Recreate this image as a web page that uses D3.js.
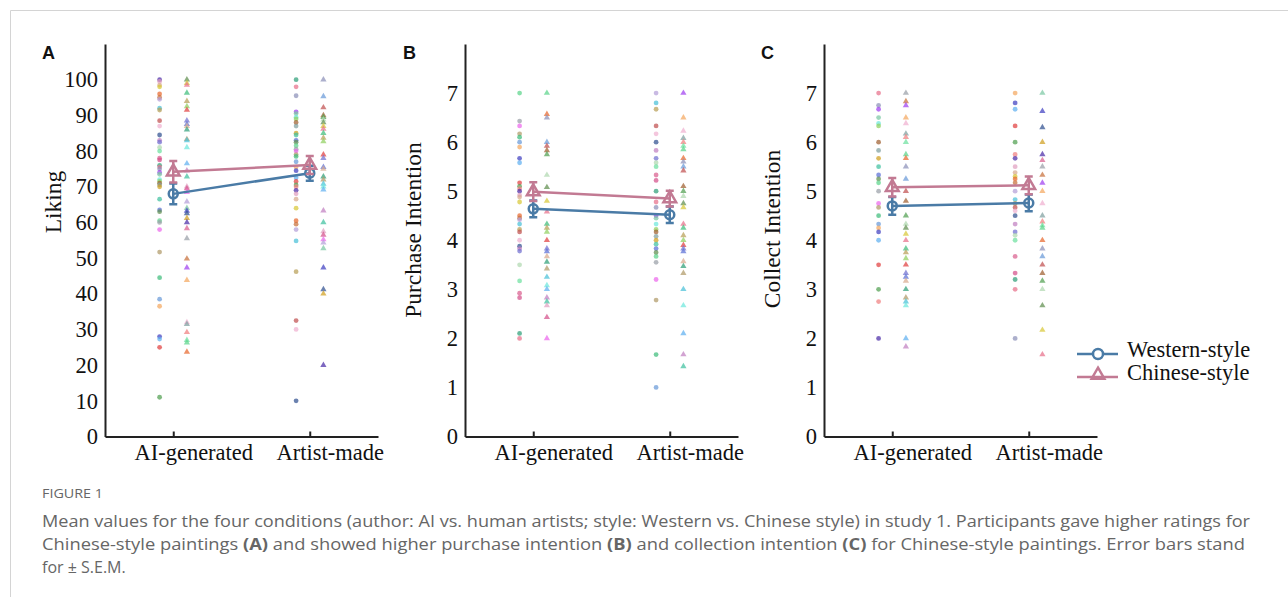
<!DOCTYPE html>
<html>
<head>
<meta charset="utf-8">
<script src="https://cdn.jsdelivr.net/npm/d3@7"></script>
<style>
body { margin: 0; background: #fff; }
</style>
</head>
<body>
<div id="contents"></div>
<script>
var categories = ["AI-generated", "Artist-made"];
var seriesNames = ["Western-style", "Chinese-style"];
var panelLetters = ["A", "B", "C"];
var yLabels = ["Liking", "Purchase Intention", "Collect Intention"];
var likingTicks = [0, 10, 20, 30, 40, 50, 60, 70, 80, 90, 100];
var intentionTicks = [0, 1, 2, 3, 4, 5, 6, 7];

// means and s.e.m. per category [AI, Artist]
var likingWesternMean = [68.0, 73.8];
var likingWesternSem = [2.9, 2.1];
var likingChineseMean = [74.2, 76.1];
var likingChineseSem = [3.0, 2.5];
var purchaseWesternMean = [4.64, 4.52];
var purchaseWesternSem = [0.17, 0.17];
var purchaseChineseMean = [4.99, 4.85];
var purchaseChineseSem = [0.19, 0.16];
var collectWesternMean = [4.70, 4.76];
var collectWesternSem = [0.18, 0.17];
var collectChineseMean = [5.08, 5.12];
var collectChineseSem = [0.19, 0.18];

// individual ratings
var likingAIWestern = [100, 99.5, 98.5, 98, 96, 95, 94.5, 92, 91.5, 88.5, 87, 84.5, 83, 82.5, 81, 80, 78, 77.5, 76, 75.5, 75, 74, 73.5, 72, 71.5, 71, 70.5, 70, 66.5, 63.5, 63, 60.5, 60, 58, 51.7, 44.5, 38.5, 36.5, 28, 27.3, 25, 11];
var likingAIChinese = [100, 99, 98.5, 96.3, 94, 92.5, 91.5, 88.5, 87.5, 87, 86, 83.3, 83, 81, 76.5, 74.5, 72.8, 70, 69.5, 68.5, 65.8, 64, 63.2, 62.5, 61.2, 60, 58.3, 55.5, 49.8, 47.3, 43.8, 32, 31.5, 29.2, 27, 26.3, 23.7];
var likingArtistWestern = [100, 98, 95.5, 91, 90.5, 89.5, 89, 88, 87, 85, 84.5, 83, 82.5, 81.5, 80.5, 80, 79, 78.5, 77, 75.5, 74.5, 72.5, 71.5, 70.5, 70, 69, 68, 66.5, 64, 60.5, 59.5, 58, 54.8, 46.2, 32.5, 30, 10];
var likingArtistChinese = [100, 95.3, 92.2, 90, 89.5, 88.8, 88, 87, 86.2, 85, 83.7, 82.7, 79, 78, 75.5, 75, 72.8, 72, 70.8, 70, 69.2, 63.3, 60, 57.5, 56.5, 55.2, 54.3, 52.7, 47.3, 41.2, 40, 20];
var purchaseAIWestern = [7, 6.43, 6.33, 6.17, 6.1, 6, 5.9, 5.67, 5.58, 5.17, 5.1, 5.05, 5, 4.92, 4.88, 4.78, 4.5, 4.45, 4.42, 4.33, 4.22, 4.17, 4, 3.88, 3.83, 3.78, 3.5, 3.17, 2.92, 2.83, 2.1, 2];
var purchaseAIChinese = [7, 6.57, 6.5, 6, 5.92, 5.83, 5.75, 5.33, 5.08, 4.8, 4.58, 4.33, 4.25, 4.17, 4, 3.83, 3.77, 3.67, 3.56, 3.42, 3.25, 3.08, 3, 2.83, 2.75, 2.67, 2.43, 2];
var purchaseArtistWestern = [7, 6.8, 6.67, 6.33, 6.17, 6, 5.83, 5.67, 5.58, 5.5, 5.33, 5.22, 5, 4.78, 4.67, 4.5, 4.45, 4.33, 4.22, 4.17, 4.08, 4, 3.92, 3.83, 3.75, 3.67, 3.55, 3.2, 2.78, 1.67, 1];
var purchaseArtistChinese = [7, 6.5, 6.23, 6.08, 6, 5.92, 5.85, 5.67, 5.6, 5.5, 5.42, 5.1, 5, 4.9, 4.75, 4.67, 4.33, 4.25, 4.1, 4, 3.9, 3.83, 3.77, 3.57, 3.47, 3.33, 3, 2.67, 2.1, 1.67, 1.43];
var collectAIWestern = [7, 6.75, 6.67, 6.5, 6.38, 6.33, 6, 5.83, 5.67, 5.5, 5.33, 5.25, 5.17, 5, 4.75, 4.67, 4.5, 4.33, 4.25, 4.17, 4, 3.5, 3, 2.75, 2];
var collectAIChinese = [7, 6.83, 6.75, 6.5, 6.38, 6.17, 6.1, 6, 5.75, 5.67, 5.5, 5.25, 5, 4.8, 4.5, 4.33, 4.25, 4.13, 4, 3.83, 3.75, 3.63, 3.5, 3.33, 3.25, 3.17, 3, 2.83, 2.75, 2.67, 2, 1.83];
var collectArtistWestern = [7, 6.8, 6.67, 6.33, 6, 5.75, 5.67, 5.5, 5.38, 5.3, 5.25, 5.17, 5, 4.83, 4.75, 4.67, 4.6, 4.5, 4.33, 4.17, 4.1, 4, 3.67, 3.33, 3.2, 3, 2];
var collectArtistChinese = [7, 6.63, 6.3, 6, 5.75, 5.63, 5.5, 5.33, 5.17, 5, 4.75, 4.5, 4.38, 4.3, 4.25, 4, 3.83, 3.67, 3.5, 3.33, 3.17, 3, 2.67, 2.17, 1.67];

var pointColors = ["#4b2ca8", "#5a6fd6", "#6ee0a0", "#e0a0c0", "#5f8f4f", "#d9608f", "#d8ab8f", "#5cd48a",
	"#d4508a", "#d8c838", "#9aa0a8", "#2f9f78", "#e8682e", "#ec66ec", "#e8708a", "#c8703c",
	"#b09a68", "#8c90b8", "#b4a0d8", "#3ebc7c", "#a040f0", "#4ac0d8", "#6a9ad8", "#7cc8a4",
	"#b8a058", "#f4a860", "#6ee8dc", "#c05050", "#4040c0", "#90d060", "#f0b0d0", "#60b0f0",
	"#a06030", "#305090", "#e04040", "#80a0a0", "#c080c0", "#50a050", "#d0a020", "#7070d0",
	"#f08080", "#40c0a0", "#b0d8b0"];
var seriesColors = ["#4a7ba6", "#c27a93"];

var panels = [
	{ letter: panelLetters[0], label: yLabels[0], ticks: likingTicks, top: 110, left: 105, labelY: 202,
	  points: [[likingAIWestern, likingAIChinese], [likingArtistWestern, likingArtistChinese]],
	  means: [likingWesternMean, likingChineseMean], sems: [likingWesternSem, likingChineseSem] },
	{ letter: panelLetters[1], label: yLabels[1], ticks: intentionTicks, top: 8, left: 465, labelY: 230,
	  points: [[purchaseAIWestern, purchaseAIChinese], [purchaseArtistWestern, purchaseArtistChinese]],
	  means: [purchaseWesternMean, purchaseChineseMean], sems: [purchaseWesternSem, purchaseChineseSem] },
	{ letter: panelLetters[2], label: yLabels[2], ticks: intentionTicks, top: 8, left: 824, labelY: 229,
	  points: [[collectAIWestern, collectAIChinese], [collectArtistWestern, collectArtistChinese]],
	  means: [collectWesternMean, collectChineseMean], sems: [collectWesternSem, collectChineseSem] }
];

var SERIF = "'Liberation Serif', 'Times New Roman', serif";

var Chart = function() {
	this.svg = d3.select("#contents")
		.append("svg")
		.attr("width", 1288)
		.attr("height", 597);
	this.y0 = 436.5;
	this.y1 = 44;
	this.w = 273;
};

Chart.prototype.frame = function() {
	this.svg.append("path")
		.attr("d", "M10.5,597V10.5H1288")
		.attr("fill", "none")
		.attr("stroke", "#d4d4d4")
		.attr("stroke-width", 1);
};

Chart.prototype.panel = function(p, pi) {
	var svg = this.svg;
	var g = svg.append("g");
	var x = d3.scaleLinear().domain([0.5, 2.5]).range([p.left, p.left + this.w]);
	var y = d3.scaleLinear().domain([0, p.top]).range([this.y0, this.y1]);
	var tri = d3.symbol().type(d3.symbolTriangle);

	// raw points
	p.points.forEach(function(cat, c) {
		cat.forEach(function(vals, s) {
			var cx = x(c + 1 + (s ? 0.1 : -0.1));
			var sel = g.append("g").selectAll("path").data(vals).enter();
			if (s == 0) {
				sel.append("circle")
					.attr("cx", cx)
					.attr("cy", function(d) { return y(d); })
					.attr("r", 2.4)
					.attr("fill", function(d, i) { return pointColors[(i * 3 + c * 11 + pi * 7) % pointColors.length]; })
					.attr("fill-opacity", 0.72);
			} else {
				sel.append("path")
					.attr("d", tri.size(17)())
					.attr("transform", function(d) { return "translate(" + cx + "," + y(d) + ")"; })
					.attr("fill", function(d, i) { return pointColors[(i * 5 + c * 13 + pi * 3 + 4) % pointColors.length]; })
					.attr("fill-opacity", 0.72);
			}
		});
	});

	// axes
	var ya = g.append("g")
		.attr("transform", "translate(" + p.left + ",0)")
		.call(d3.axisLeft(y).tickValues(p.ticks).tickSize(0).tickPadding(7));
	ya.select(".domain").attr("stroke", "#222").attr("stroke-width", 2);
	ya.selectAll("text").attr("font-family", SERIF).attr("font-size", 22.5).attr("fill", "#111");

	var xa = g.append("g")
		.attr("transform", "translate(0," + this.y0 + ")")
		.call(d3.axisBottom(x).tickValues([1, 2]).tickSizeInner(-5).tickSizeOuter(0).tickPadding(8)
			.tickFormat(function(d) { return categories[d - 1]; }));
	xa.select(".domain").attr("stroke", "#222").attr("stroke-width", 2);
	xa.selectAll(".tick line").attr("stroke", "#222").attr("stroke-width", 2);
	xa.selectAll("text").attr("font-family", SERIF).attr("font-size", 22.5).attr("fill", "#111").attr("dx", 20);

	g.append("text")
		.attr("transform", "translate(" + (p.left - 52) + "," + p.labelY + ") rotate(-90)")
		.attr("text-anchor", "middle")
		.attr("dominant-baseline", "central")
		.attr("font-family", SERIF)
		.attr("font-size", 23.5)
		.attr("fill", "#111")
		.text(p.label);

	g.append("text")
		.attr("x", p.left - 63 + (pi == 1 ? 1 : 0))
		.attr("y", 59)
		.attr("font-family", "'Liberation Sans', Arial, sans-serif")
		.attr("font-weight", "bold")
		.attr("font-size", 18)
		.attr("fill", "#111")
		.text(p.letter);

	// means with error bars
	p.means.forEach(function(m, s) {
		var col = seriesColors[s];
		var sg = g.append("g");
		sg.append("path")
			.datum(m)
			.attr("d", d3.line().x(function(d, i) { return x(i + 1); }).y(function(d) { return y(d); }))
			.attr("fill", "none")
			.attr("stroke", col)
			.attr("stroke-width", 2.5);
		m.forEach(function(v, c) {
			var e = p.sems[s][c];
			var cx = x(c + 1);
			sg.append("path")
				.attr("d", "M" + cx + "," + y(v - e) + "V" + y(v + e) +
					"M" + (cx - 4) + "," + y(v + e) + "H" + (cx + 4) +
					"M" + (cx - 4) + "," + y(v - e) + "H" + (cx + 4))
				.attr("stroke", col)
				.attr("stroke-width", 2.5)
				.attr("fill", "none");
			if (s == 0) {
				sg.append("circle")
					.attr("cx", cx).attr("cy", y(v)).attr("r", 4.5)
					.attr("fill", "none").attr("stroke", col).attr("stroke-width", 2.5);
			} else {
				sg.append("path")
					.attr("d", tri.size(70)())
					.attr("transform", "translate(" + cx + "," + y(v) + ")")
					.attr("fill", "none").attr("stroke", col).attr("stroke-width", 2.5);
			}
		});
	});
};

Chart.prototype.legend = function() {
	var svg = this.svg;
	var tri = d3.symbol().type(d3.symbolTriangle);
	var rows = [354, 377];
	seriesNames.forEach(function(name, s) {
		var yy = rows[s];
		var col = seriesColors[s];
		svg.append("line")
			.attr("x1", 1077).attr("x2", 1118).attr("y1", yy).attr("y2", yy)
			.attr("stroke", col).attr("stroke-width", 2.5);
		if (s == 0) {
			svg.append("circle").attr("cx", 1098).attr("cy", yy).attr("r", 5)
				.attr("fill", "#fff").attr("stroke", col).attr("stroke-width", 2.5);
		} else {
			svg.append("path").attr("d", tri.size(70)())
				.attr("transform", "translate(1098," + (yy - 2) + ")")
				.attr("fill", "none").attr("stroke", col).attr("stroke-width", 2.5);
		}
		svg.append("text")
			.attr("x", 1127).attr("y", yy + 3)
			.attr("font-family", SERIF).attr("font-size", 22.5).attr("fill", "#111")
			.text(name);
	});
};

Chart.prototype.caption = function() {
	var svg = this.svg;
	var font = "'Open Sans', Lato, sans-serif";
	svg.append("text")
		.attr("x", 42).attr("y", 498)
		.attr("font-family", font).attr("font-size", 12).attr("fill", "#666")
		.attr("textLength", 61).attr("lengthAdjust", "spacingAndGlyphs")
		.text("FIGURE 1");
	var lines = [
		[["Mean values for the four conditions (author: AI vs. human artists; style: Western vs. Chinese style) in study 1. Participants gave higher ratings for", 0]],
		[["Chinese-style paintings ", 0], ["(A)", 1], [" and showed higher purchase intention ", 0], ["(B)", 1], [" and collection intention ", 0], ["(C)", 1], [" for Chinese-style paintings. Error bars stand", 0]],
		[["for \u00b1 S.E.M.", 0]]
	];
	var widths = [1208, 1203, 0];
	lines.forEach(function(parts, i) {
		var t = svg.append("text")
			.attr("x", 42).attr("y", 527 + i * 23)
			.attr("font-family", font).attr("font-size", 16).attr("fill", "#666");
		if (widths[i]) t.attr("textLength", widths[i]).attr("lengthAdjust", "spacingAndGlyphs");
		parts.forEach(function(pt) {
			t.append("tspan").attr("font-weight", pt[1] ? "bold" : "normal").text(pt[0]);
		});
	});
};

var chart = new Chart();
chart.frame();
panels.forEach(function(p, i) { chart.panel(p, i); });
chart.legend();
chart.caption();
</script>
</body>
</html>
